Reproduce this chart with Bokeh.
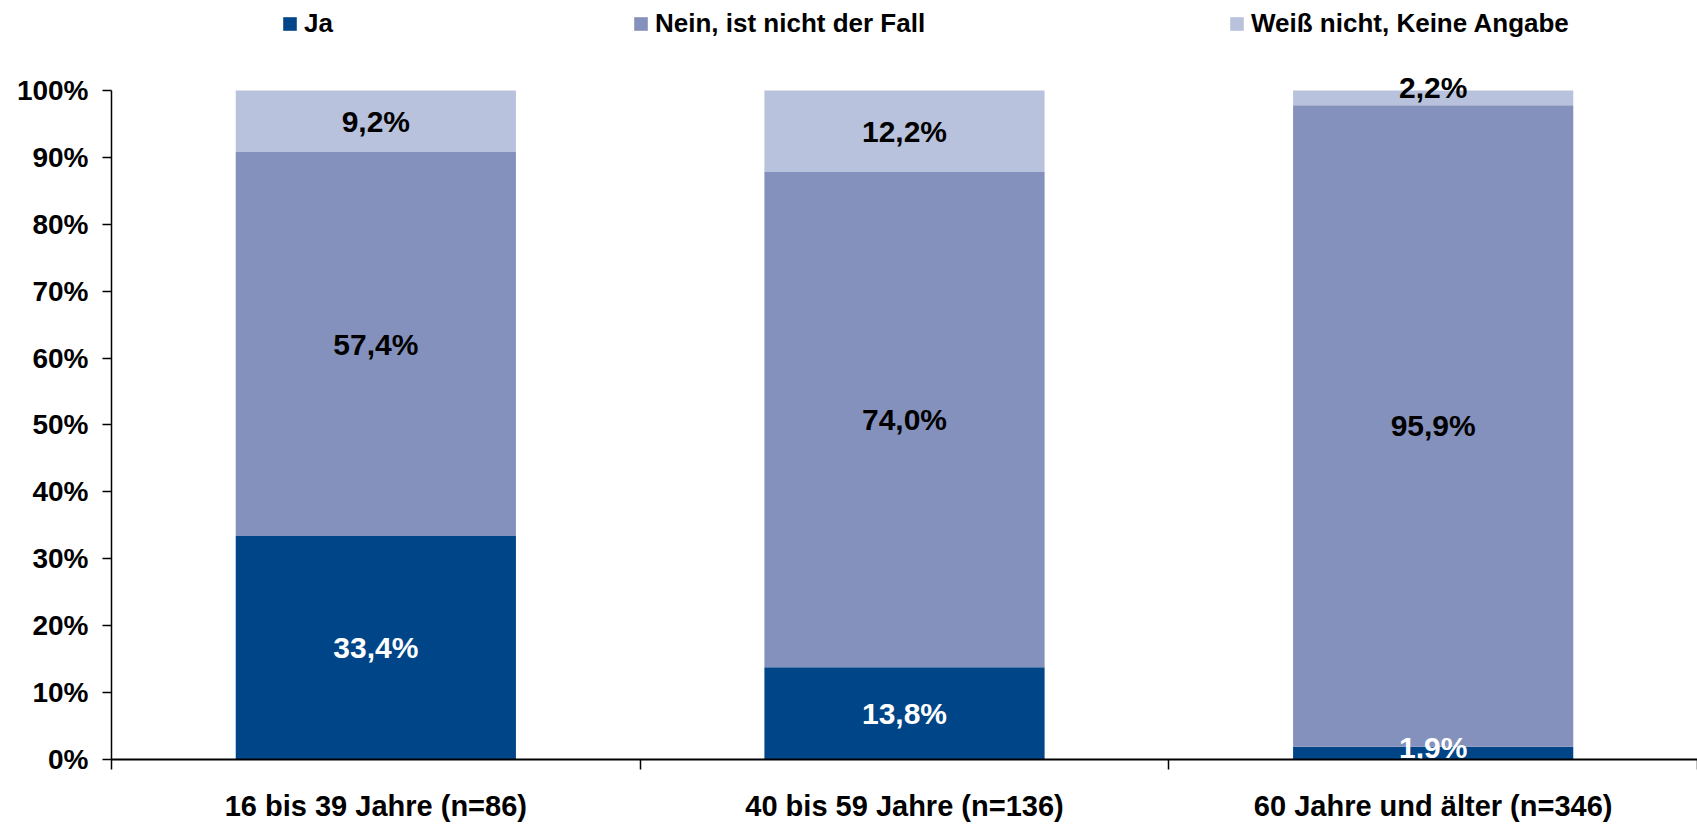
from bokeh.plotting import figure
from bokeh.models import (ColumnDataSource, Range1d, LinearAxis,
                          FixedTicker, Legend, LegendItem)
from bokeh.core.properties import value
from bokeh.embed import file_html
from bokeh.resources import INLINE

# ---------------- data ----------------
categories = ["16 bis 39 Jahre (n=86)", "40 bis 59 Jahre (n=136)",
              "60 Jahre und älter (n=346)"]
series_names = ["Ja", "Nein, ist nicht der Fall", "Weiß nicht, Keine Angabe"]
ja = [33.4, 13.8, 1.9]
nein = [57.4, 74.0, 95.9]
weiss = [9.2, 12.2, 2.2]
y_ticks = [0, 10, 20, 30, 40, 50, 60, 70, 80, 90, 100]
y_tick_labels = ["0%", "10%", "20%", "30%", "40%", "50%", "60%", "70%",
                 "80%", "90%", "100%"]

# ---------------- style ----------------
FONT = "Liberation Sans"
colors = ["#004587", "#8491BC", "#B8C2DC"]
label_colors = ["white", "black", "black"]
W, H = 1697, 824

n_c = len(categories)
# category slot i occupies [i, i+1] on the x scale; bars sit at slot centres
centers = [i + 0.5 for i in range(n_c)]
bounds_ticks = [i for i in range(n_c + 1)]

p = figure(x_range=Range1d(0, n_c), y_range=Range1d(0, 113.45),
           width=W, height=H, output_backend="svg", toolbar_location=None,
           x_axis_location=None, y_axis_location=None,
           min_border_left=111, min_border_right=0, min_border_top=0,
           min_border_bottom=60)
p.outline_line_color = None
p.grid.visible = False
p.background_fill_color = "white"
p.border_fill_color = "white"

# ---------------- bars ----------------
keys = ["ja", "nein", "weiss"]
series = [ja, nein, weiss]
src = ColumnDataSource(dict(pos=centers, cat=categories, ja=ja, nein=nein,
                            weiss=weiss))
renderers = p.vbar_stack(keys, x="pos", width=0.53, fill_color=colors,
                         line_color=None, source=src)

# ---------------- value labels ----------------
lx, ly, lt, lc = [], [], [], []
n_s = len(series)
for i in range(n_c):
    base = 0.0
    for s, vals in enumerate(series):
        v = vals[i]
        mid = base + v / 2
        if v < 4:
            if s == 0:
                mid = max(mid, 1.8)
            elif s == n_s - 1:
                mid = base + v + 0.5
        lx.append(centers[i])
        ly.append(mid)
        lt.append(("%.1f" % v).replace(".", ",") + "%")
        lc.append(label_colors[s])
        base += v
lsrc = ColumnDataSource(dict(x=lx, y=ly, t=lt, c=lc))
p.text(x="x", y="y", text="t", text_color="c", source=lsrc,
       text_font=value(FONT), text_font_size="30px", text_font_style="bold",
       text_align="center", text_baseline="middle")

# ---------------- axes ----------------
yaxis = LinearAxis(ticker=FixedTicker(ticks=y_ticks), bounds=(0, 100))
yaxis.major_label_overrides = {t: l for t, l in zip(y_ticks, y_tick_labels)}
yaxis.major_label_text_font = FONT
yaxis.major_label_text_font_size = "28px"
yaxis.major_label_text_font_style = "bold"
yaxis.major_label_text_color = "black"
yaxis.major_label_standoff = 14
yaxis.major_tick_out = 9
yaxis.major_tick_in = 0
yaxis.minor_tick_line_color = None
yaxis.axis_line_color = "black"
yaxis.axis_line_width = 1.5
yaxis.major_tick_line_color = "black"
yaxis.major_tick_line_width = 1.5
p.add_layout(yaxis, "left")

xaxis = LinearAxis(ticker=FixedTicker(ticks=centers, minor_ticks=bounds_ticks))
xaxis.major_label_overrides = {c: lab for c, lab in zip(centers, categories)}
xaxis.major_label_text_font = FONT
xaxis.major_label_text_font_size = "29px"
xaxis.major_label_text_font_style = "bold"
xaxis.major_label_text_color = "black"
xaxis.major_label_standoff = 20
xaxis.major_tick_out = 0
xaxis.major_tick_in = 0
xaxis.major_tick_line_color = None
xaxis.minor_tick_out = 10
xaxis.minor_tick_in = 0
xaxis.minor_tick_line_color = "black"
xaxis.minor_tick_line_width = 1.5
xaxis.axis_line_color = "black"
xaxis.axis_line_width = 2
p.add_layout(xaxis, "below")

# ---------------- legends ----------------
legend_x = [170, 521, 1117]
for r, name, lxp in zip(renderers, series_names, legend_x):
    lg = Legend(items=[LegendItem(label=name, renderers=[r])],
                location=(lxp, 720), orientation="horizontal",
                glyph_width=17, glyph_height=17, label_standoff=6,
                label_text_font=FONT, label_text_font_size="26px",
                label_text_font_style="bold", label_text_color="black",
                padding=0, margin=0, spacing=0, border_line_color=None,
                background_fill_alpha=0)
    p.add_layout(lg, "center")

open("out.html", "w").write(file_html(p, INLINE))
